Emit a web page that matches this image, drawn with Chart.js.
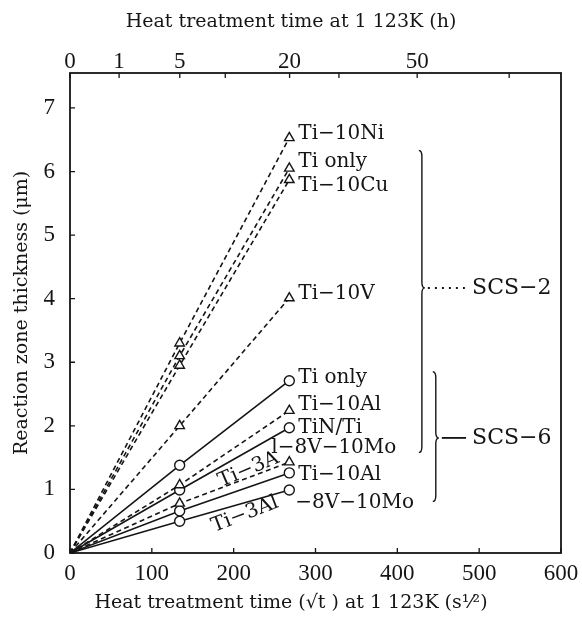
<!DOCTYPE html>
<html>
<head>
<meta charset="utf-8">
<script src="https://cdn.jsdelivr.net/npm/chart.js@4"></script>
<style>
  html, body { margin: 0; padding: 0; background: #fff; }
  canvas { display: block; }
</style>
</head>
<body>
<canvas id="chart" width="582" height="619"></canvas>
<script>
// sqrt(t) in s^1/2 at 0 h, 5 h and 20 h
var timeRoot = [0, 134, 268];

// SCS-2 fibre: triangles, dashed lines
var scs2Names = ['Ti\u221210Ni', 'Ti only', 'Ti\u221210Cu', 'Ti\u221210V', 'Ti\u221210Al', 'Ti\u22123Al\u22128V\u221210Mo'];
var scs2At5h = [3.30, 3.10, 2.95, 2.00, 1.07, 0.78];
var scs2At20h = [6.53, 6.05, 5.87, 4.01, 2.24, 1.43];

// SCS-6 fibre: circles, solid lines
var scs6Names = ['Ti only', 'TiN/Ti', 'Ti\u221210Al', 'Ti\u22123Al\u22128V\u221210Mo'];
var scs6At5h = [1.38, 0.99, 0.66, 0.50];
var scs6At20h = [2.71, 1.97, 1.26, 0.99];

// ticks
var bottomTicks = [0, 100, 200, 300, 400, 500, 600];
var leftTicks = [0, 1, 2, 3, 4, 5, 6, 7];
var topHours = [0, 1, 5, 10, 20, 30, 50, 80];
var topHourLabels = ['0', '1', '5', '', '20', '', '50', ''];

var topTitle = 'Heat treatment time at 1 123K (h)';
var bottomTitle = 'Heat treatment time (\u221At ) at 1 123K (s\u00B9\u2044\u00B2)';

var ink = '#151515';
var serif = 'DejaVu Serif';
var digits = 'Liberation Serif';

// label placement next to the 20 h marker (px offsets)
var scs2LabelPos = [[9, -4], [9, -7], [9, 6], [9, -4], [9, -6], [-18, -14]];
var scs6LabelPos = [[9, -3], [9, 0], [9, 2], [6, 13]];
// the two Ti-3Al-8V-10Mo labels are partly slanted along their line
var slanted = {
    scs2: { split: 5, dx: -70, dy: 20, angle: -23 },
    scs6: { split: 6, dx: -77, dy: 37, angle: -21 }
};

var braces = [
    { text: 'SCS\u22122', x: 430, top: 6.33, tip: 4.17, bottom: 1.58, lineTo: 484, dash: [2, 5] },
    { text: 'SCS\u22126', x: 447, top: 2.85, tip: 1.81, bottom: 0.81, lineTo: 484, dash: [] }
];

function makeSet(name, at5h, at20h, style) {
    return {
        label: name,
        data: timeRoot.map(function (t, k) { return { x: t, y: [0, at5h, at20h][k] }; }),
        showLine: true,
        borderColor: ink,
        borderWidth: 1.6,
        borderDash: style === 'triangle' ? [5, 3.5] : [],
        pointStyle: style,
        pointRadius: style === 'triangle' ? [0, 5.5, 5.5] : [0, 5, 5],
        pointBackgroundColor: '#fff',
        pointBorderColor: ink,
        pointBorderWidth: 1.4,
        tension: 0
    };
}

var datasets = [];
scs2Names.forEach(function (n, i) { datasets.push(makeSet(n, scs2At5h[i], scs2At20h[i], 'triangle')); });
scs6Names.forEach(function (n, i) { datasets.push(makeSet(n, scs6At5h[i], scs6At20h[i], 'circle')); });

function drawBrace(ctx, x, yTop, yTip, yBot) {
    var w = 3, r = 6;
    ctx.beginPath();
    ctx.moveTo(x - w, yTop);
    ctx.quadraticCurveTo(x, yTop, x, yTop + r);
    ctx.lineTo(x, yTip - r);
    ctx.quadraticCurveTo(x, yTip, x + w, yTip);
    ctx.quadraticCurveTo(x, yTip, x, yTip + r);
    ctx.lineTo(x, yBot - r);
    ctx.quadraticCurveTo(x, yBot, x - w, yBot);
    ctx.stroke();
}

var decorations = {
    id: 'decorations',
    afterDraw: function (chart) {
        var ctx = chart.ctx;
        var a = chart.chartArea;
        var xs = chart.scales.x, ys = chart.scales.y, xt = chart.scales.xTop;
        ctx.save();
        ctx.strokeStyle = ink;
        ctx.fillStyle = ink;

        // frame
        ctx.lineWidth = 1.8;
        ctx.strokeRect(a.left, a.top, a.right - a.left, a.bottom - a.top);

        // inward ticks
        ctx.lineWidth = 1.3;
        ctx.beginPath();
        leftTicks.forEach(function (v) {
            var y = ys.getPixelForValue(v);
            ctx.moveTo(a.left, y); ctx.lineTo(a.left + 5, y);
        });
        bottomTicks.forEach(function (v) {
            var x = xs.getPixelForValue(v);
            ctx.moveTo(x, a.bottom); ctx.lineTo(x, a.bottom - 5);
        });
        topHours.forEach(function (h) {
            var x = xt.getPixelForValue(Math.sqrt(h * 3600));
            ctx.moveTo(x, a.top); ctx.lineTo(x, a.top + 5);
        });
        ctx.stroke();

        // axis titles for the two time axes, centred on the page
        ctx.font = '19px "' + serif + '"';
        ctx.textAlign = 'center';
        ctx.textBaseline = 'middle';
        ctx.fillText(topTitle, chart.width / 2, 22);
        ctx.fillText(bottomTitle, chart.width / 2, 603);

        // curve labels
        ctx.font = '20px "' + serif + '"';
        ctx.textAlign = 'left';
        var x20 = xs.getPixelForValue(timeRoot[2]);
        function label(name, value, pos, slant) {
            var y = ys.getPixelForValue(value);
            var text = name;
            if (slant && name.indexOf('3Al') > 0) {
                ctx.save();
                ctx.translate(x20 + slant.dx, y + slant.dy);
                ctx.rotate(slant.angle * Math.PI / 180);
                ctx.fillText(name.slice(0, slant.split), 0, 0);
                ctx.restore();
                text = name.slice(slant.split);
            }
            ctx.fillText(text, x20 + pos[0], y + pos[1]);
        }
        scs2Names.forEach(function (n, i) { label(n, scs2At20h[i], scs2LabelPos[i], slanted.scs2); });
        scs6Names.forEach(function (n, i) { label(n, scs6At20h[i], scs6LabelPos[i], slanted.scs6); });

        // braces with fibre names
        braces.forEach(function (b) {
            var bx = xs.getPixelForValue(b.x);
            var tip = ys.getPixelForValue(b.tip);
            ctx.lineWidth = 1.4;
            ctx.setLineDash([]);
            drawBrace(ctx, bx, ys.getPixelForValue(b.top), tip, ys.getPixelForValue(b.bottom));
            ctx.lineWidth = b.dash.length ? 2 : 1.8;
            ctx.setLineDash(b.dash);
            ctx.beginPath();
            ctx.moveTo(bx + 6, tip);
            ctx.lineTo(xs.getPixelForValue(b.lineTo), tip);
            ctx.stroke();
            ctx.setLineDash([]);
            ctx.font = '22px "' + serif + '"';
            ctx.fillText(b.text, xs.getPixelForValue(b.lineTo) + 6, tip);
        });
        ctx.restore();
    }
};

var tickFont = { family: digits, size: 23 };

function fixX(h) {
    return function (s) { s.height = h; s.paddingLeft = 0; s.paddingRight = 0; };
}

new Chart(document.getElementById('chart').getContext('2d'), {
    type: 'scatter',
    data: { datasets: datasets },
    options: {
        responsive: false,
        animation: false,
        devicePixelRatio: 1,
        layout: { padding: { left: 0, right: 21, top: 0, bottom: 0 } },
        plugins: { legend: { display: false }, tooltip: { enabled: false } },
        scales: {
            x: {
                type: 'linear', position: 'bottom', min: 0, max: 600,
                afterBuildTicks: function (s) { s.ticks = bottomTicks.map(function (v) { return { value: v }; }); },
                afterFit: fixX(66),
                ticks: { font: tickFont, color: ink, padding: -1, autoSkip: false, maxRotation: 0 },
                grid: { display: false },
                border: { display: false }
            },
            xTop: {
                type: 'linear', position: 'top', min: 0, max: 600,
                afterBuildTicks: function (s) { s.ticks = topHours.map(function (h) { return { value: Math.sqrt(h * 3600) }; }); },
                afterFit: fixX(73),
                ticks: {
                    font: tickFont, color: ink, padding: -11, autoSkip: false, maxRotation: 0,
                    callback: function (v, i) { return topHourLabels[i]; }
                },
                grid: { display: false },
                border: { display: false }
            },
            y: {
                type: 'linear', position: 'left', min: 0, max: 7.55,
                afterBuildTicks: function (s) { s.ticks = leftTicks.map(function (v) { return { value: v }; }); },
                afterFit: function (s) { s.width = 70; s.paddingTop = 0; s.paddingBottom = 0; },
                ticks: { font: tickFont, color: ink, padding: 7 },
                grid: { display: false },
                border: { display: false },
                title: {
                    display: true, color: ink, font: { family: serif, size: 19 }, padding: { top: 11, bottom: 0 },
                    text: 'Reaction zone thickness (\u03BCm)'
                }
            }
        }
    },
    plugins: [decorations]
});
</script>
</body>
</html>
